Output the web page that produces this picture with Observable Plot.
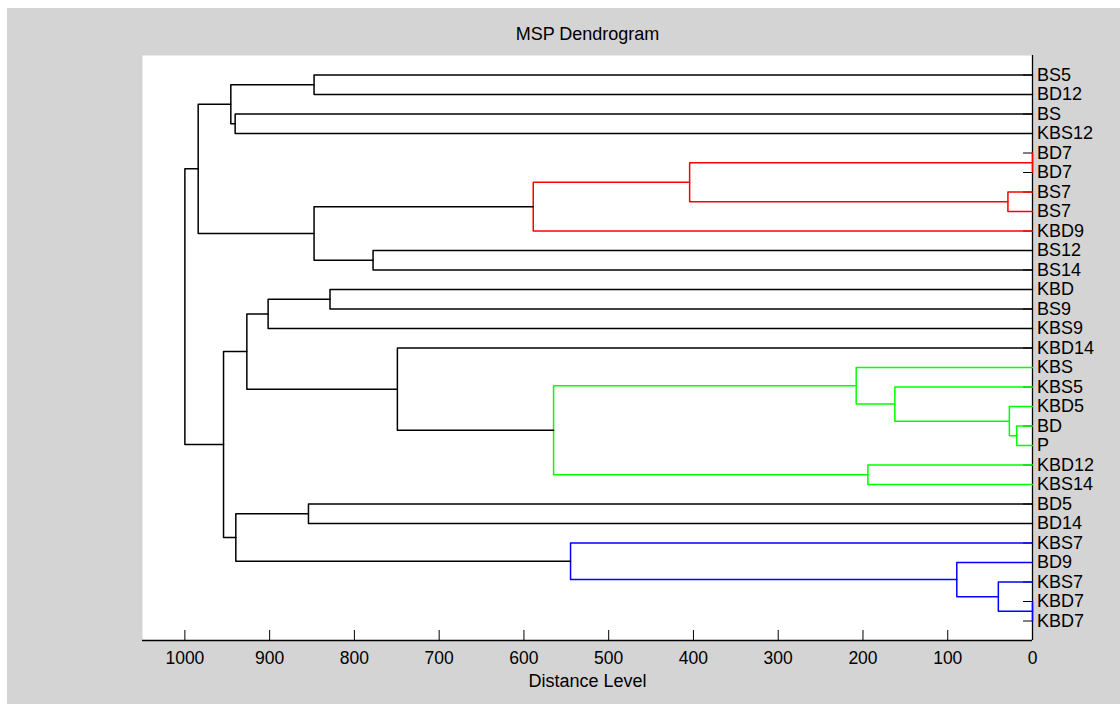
<!DOCTYPE html>
<html><head><meta charset="utf-8">
<script src="https://cdn.jsdelivr.net/npm/d3@7"></script>
<script src="https://cdn.jsdelivr.net/npm/@observablehq/plot@0.6"></script>
<style>
html,body{margin:0;padding:0;background:#fff;}
#wrap{position:relative;width:1120px;height:704px;overflow:hidden;}
#bg{position:absolute;left:7px;top:8px;right:0;bottom:0;background:#d4d4d4;}
#chart{position:absolute;left:0;top:0;}
</style></head><body>
<div id="wrap"><div id="bg"></div><div id="chart"></div></div>
<script>
// Leaves, top to bottom
const leafLabels = ["BS5","BD12","BS","KBS12","BD7","BD7","BS7","BS7","KBD9","BS12","BS14",
  "KBD","BS9","KBS9","KBD14","KBS","KBS5","KBD5","BD","P","KBD12","KBS14",
  "BD5","BD14","KBS7","BD9","KBS7","KBD7","KBD7"];
// Merges (MATLAB linkage style): leaves are 1..29, merge k creates node 30+k
const mergeA = [1, 3, 30, 5, 7, 33, 35, 10, 36, 32, 12, 40, 19, 18, 17, 16, 21, 45, 15, 41, 23, 28, 27, 26, 25, 50, 49, 39];
const mergeB = [2, 4, 31, 6, 8, 34, 9, 11, 37, 38, 13, 14, 20, 42, 43, 44, 22, 46, 47, 48, 24, 29, 51, 52, 53, 54, 55, 56];
const mergeHeight = [847.6, 940.7, 945.8, 0, 29, 404.5, 589, 778, 847.6, 984.3, 828.8, 901.8,
  18.6, 27.3, 162.4, 208, 194.2, 565, 749.3, 926.9, 854.2, 0, 40.3, 89.3, 545, 939.9, 954.4, 1000];
const mergeGroup = ["none","none","none","A","A","A","A","none","none","none","none","none",
  "B","B","B","B","B","B","none","none","none","C","C","C","C","none","none","none"];
const xTicks = [0, 100, 200, 300, 400, 500, 600, 700, 800, 900, 1000];
const titleText = "MSP Dendrogram";
const xLabelText = "Distance Level";

const groupNames = ["none", "A", "B", "C"];
const groupColors = ["#000000", "#ff0000", "#00ff00", "#0000ff"];

const nLeaves = leafLabels.length;
const leafIdx = leafLabels.map((_, i) => i + 1);
const nodeY = new Map(), nodeH = new Map();
leafIdx.forEach(i => { nodeY.set(i, i); nodeH.set(i, 0); });
const linkRows = [];
mergeA.forEach((a, k) => {
  const b = mergeB[k], h = mergeHeight[k], id = nLeaves + 1 + k;
  const ya = nodeY.get(a), yb = nodeY.get(b);
  nodeY.set(id, (ya + yb) / 2); nodeH.set(id, h);
  [[nodeH.get(a), ya], [h, ya], [h, yb], [nodeH.get(b), yb]]
    .forEach(([x, y]) => linkRows.push({id, x, y, group: mergeGroup[k]}));
});

const font = "'Liberation Sans', Arial, sans-serif";
const chart = Plot.plot({
  width: 1120, height: 704,
  marginLeft: 142, marginRight: 88, marginTop: 55, marginBottom: 64,
  style: {background: "transparent", fontFamily: font, color: "#000", overflow: "visible"},
  x: {domain: [1050, 0], axis: null},
  y: {domain: [0, 30], reverse: true, axis: null},
  color: {domain: groupNames, range: groupColors},
  marks: [
    Plot.frame({fill: "white", stroke: "none"}),
    Plot.axisY(leafIdx, {anchor: "right", tickSize: -10, tickPadding: 14.5, tickFormat: i => leafLabels[i - 1], fontSize: 18, label: null}),
    Plot.axisX(xTicks, {anchor: "bottom", tickSize: -10, tickPadding: 21, fontSize: 17.5, tickFormat: d => String(d), label: null}),
    Plot.ruleY([30], {stroke: "#000", strokeWidth: 1.3}),
    Plot.ruleX([0], {stroke: "#000", strokeWidth: 1.3}),
    Plot.line(linkRows, {x: "x", y: "y", z: "id", stroke: "group", strokeWidth: 1.5}),
    Plot.text([titleText], {frameAnchor: "top", lineAnchor: "middle", dy: -21, fontSize: 18}),
    Plot.text([xLabelText], {frameAnchor: "bottom", lineAnchor: "middle", dy: 41, fontSize: 18})
  ]
});
document.getElementById("chart").appendChild(chart);
</script>
</body></html>
